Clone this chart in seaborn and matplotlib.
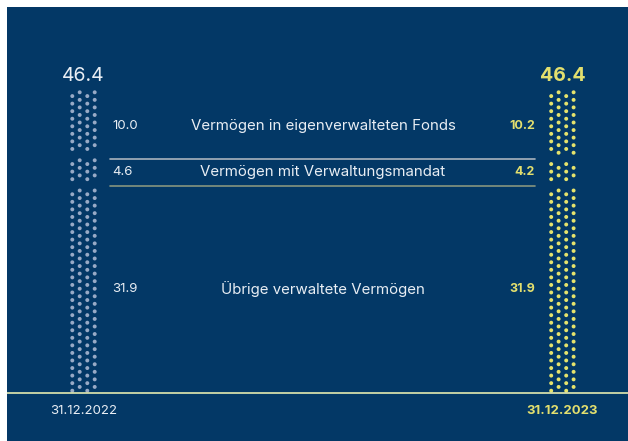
import numpy as np
import pandas as pd
import matplotlib.pyplot as plt
import seaborn as sns

# data
categories = ['Vermögen in eigenverwalteten Fonds', 'Vermögen mit Verwaltungsmandat', 'Übrige verwaltete Vermögen']
values_2022 = [10.0, 4.6, 31.9]
values_2023 = [10.2, 4.2, 31.9]
totals = [46.4, 46.4]
dates = ['31.12.2022', '31.12.2023']

bg = '#033866'
dot_colors = ['#98aac6', '#e6e36c']
text_colors = ['#e9eef4', '#e3df6e']

sns.set_theme(style='white')
plt.rcParams['font.family'] = ['Inter', 'DejaVu Sans']

W, H = 628, 441
k = 6.49          # px per unit
base = 393        # baseline pixel row
fig = plt.figure(figsize=(W / 100, H / 100), dpi=100, facecolor='white')
ax = fig.add_axes([7 / W, 0, 1 - 7 / W, (H - 7) / H])
ax.set_facecolor(bg)
ax.set_xlim(7, W)
ax.set_ylim((base - H) / k, (base - 7) / k)
sns.despine(ax=ax, left=True, bottom=True)
ax.set_xticks([])
ax.set_yticks([])

col_x = [83.5, 562.4]
col_dx = [-11.2, -3.8, 3.8, 11.2]
row_h = 0.582
row_y0 = 0.354
pad = 0.55


def dots_for(values, total, year, cx):
    # segments stacked from the bottom: last category first
    segs = values[::-1]
    tops = np.cumsum(segs)
    lows = tops - np.array(segs)
    n_rows = int((total - row_y0) / row_h + 0.2) + 1
    recs = []
    for i in range(n_rows):
        y = row_y0 + i * row_h
        for j, (lo, hi) in enumerate(zip(lows, tops)):
            top_pad = 0 if j == len(segs) - 1 else pad
            lo_pad = 0 if j == 0 else pad
            if lo + lo_pad < y < hi - top_pad + (0.5 if j == len(segs) - 1 else 0):
                cols = [0, 2] if i % 2 == 0 else [1, 3]
                for c in cols:
                    recs.append({'x': cx + col_dx[c], 'y': y, 'year': year})
    return recs


recs = dots_for(values_2022, totals[0], dates[0], col_x[0]) + \
    dots_for(values_2023, totals[1], dates[1], col_x[1])
df = pd.DataFrame(recs)
sns.scatterplot(data=df, x='x', y='y', hue='year', palette=dot_colors,
                s=8, linewidth=0, legend=False, ax=ax)
ax.set_xlabel('')
ax.set_ylabel('')

# separator lines at 2023 boundaries
bounds = np.cumsum(values_2023[::-1])
line_colors = ['#86957f', '#a9b3bd']
for b, lc in zip(bounds[:2], line_colors):
    ax.plot([110, 535], [b, b], color=lc, lw=1.2)
ax.axhline(0, color='#e4eab0', lw=1.2)

# labels
mids = bounds - np.array(values_2023[::-1]) / 2
for cat, v22, v23, m in zip(categories[::-1], values_2022[::-1], values_2023[::-1], mids):
    ax.text(112, m, f'{v22:.1f}', color=text_colors[0], fontsize=9.5,
            ha='left', va='center')
    ax.text(323, m, cat, color=text_colors[0], fontsize=10.8,
            ha='center', va='center')
    ax.text(535, m, f'{v23:.1f}', color=text_colors[1], fontsize=9,
            fontweight='bold', ha='right', va='center')

for cx, tot, d, tc, fw in zip(col_x, totals, dates, text_colors, ['normal', 'bold']):
    ax.text(cx, tot + 2.4, f'{tot:.1f}', color=tc, fontsize=14, fontweight=fw,
            ha='center', va='center')
    ax.text(cx, -2.8, d, color=tc, fontsize=9.5, fontweight=fw, ha='center', va='center')

fig.savefig('out.png', dpi=100, facecolor='white')
